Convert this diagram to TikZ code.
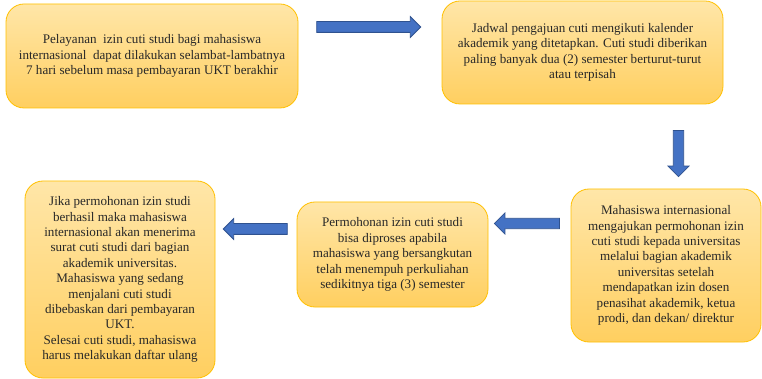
\documentclass[tikz,border=0pt]{standalone}
\usepackage{fontspec}
\setmainfont{Liberation Serif}
\usetikzlibrary{shapes.arrows}
\definecolor{boxedge}{RGB}{255,192,0}
\definecolor{boxtop}{RGB}{255,230,168}
\definecolor{boxbot}{RGB}{255,207,96}
\definecolor{arrfill}{RGB}{68,114,196}
\definecolor{arredge}{RGB}{47,82,143}
\definecolor{txt}{RGB}{40,40,40}
\tikzset{
  stepbox/.style={draw=boxedge, line width=0.8pt, rounded corners=18pt,
    top color=boxtop, bottom color=boxbot, align=center, text=txt,
    font=\rmfamily\fontsize{13.1}{15.4}\selectfont, inner sep=0pt},
  blockarrow/.style={single arrow, draw=arredge, fill=arrfill, line width=0.8pt,
    single arrow head extend=5pt, inner sep=0pt, minimum width=20pt}
}
\begin{document}
\begin{tikzpicture}[x=1pt,y=-1pt]
\useasboundingbox (0,0) rectangle (762,379);
% boxes
\node[stepbox, minimum width=292pt, minimum height=104pt] (b1) at (152,56)
  {Pelayanan\ \ izin cuti studi bagi mahasiswa\\internasional\ \ dapat dilakukan selambat-lambatnya\\7 hari sebelum masa pembayaran UKT berakhir};
\node[stepbox, minimum width=281pt, minimum height=103pt] (b2) at (582.5,52.5)
  {Jadwal pengajuan cuti mengikuti kalender\\akademik yang ditetapkan. Cuti studi diberikan\\paling banyak dua (2) semester berturut-turut\\atau terpisah};
\node[stepbox, minimum width=190pt, minimum height=153pt] (b3) at (666,265.5)
  {Mahasiswa internasional\\mengajukan permohonan izin\\cuti studi kepada universitas\\melalui bagian akademik\\universitas setelah\\mendapatkan izin dosen\\penasihat akademik, ketua\\prodi, dan dekan/ direktur};
\node[stepbox, minimum width=191pt, minimum height=105pt] (b4) at (392.5,254.5)
  {Permohonan izin cuti studi\\bisa diproses apabila\\mahasiswa yang bersangkutan\\telah menempuh perkuliahan\\sedikitnya tiga (3) semester};
\node[stepbox, minimum width=190pt, minimum height=197pt] (b5) at (120,279.5)
  {Jika permohonan izin studi\\berhasil maka mahasiswa\\internasional akan menerima\\surat cuti studi dari bagian\\akademik universitas.\\Mahasiswa yang sedang\\menjalani cuti studi\\dibebaskan dari pembayaran\\UKT.\\Selesai cuti studi, mahasiswa\\harus melakukan daftar ulang};
% arrows
\node[blockarrow, minimum height=104pt, shape border rotate=0, inner ysep=5pt] (a1) at (366,27) {};
\node[blockarrow, minimum height=46pt, shape border rotate=270, inner xsep=4.5pt, minimum width=21pt] (a2) at (678.5,151) {};
\node[blockarrow, minimum height=65pt, shape border rotate=180, inner ysep=4.5pt, minimum width=21pt] (a3) at (529.5,223.5) {};
\node[blockarrow, minimum height=64pt, shape border rotate=180, inner ysep=5pt] (a4) at (258,229) {};
\end{tikzpicture}
\end{document}
